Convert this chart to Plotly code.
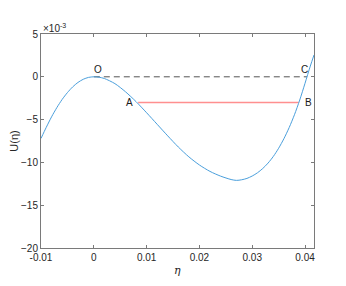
import plotly.graph_objects as go

# Potential curve U(eta), values in units of 1e-3
eta = [-0.0100, -0.0090, -0.0080, -0.0070, -0.0060, -0.0050, -0.0040, -0.0030,
       -0.0020, -0.0010, 0.0000, 0.0010, 0.0020, 0.0040, 0.0060, 0.0080, 0.0100,
       0.0120, 0.0140, 0.0160, 0.0180, 0.0200, 0.0220, 0.0240, 0.0260,
       0.0270, 0.0280, 0.0290, 0.0300, 0.0310, 0.0320, 0.0330, 0.0340,
       0.0350, 0.0360, 0.0370, 0.0380, 0.0390, 0.0400, 0.0410, 0.0417]
U = [-7.2, -5.9, -4.68, -3.6, -2.65, -1.85, -1.18, -0.66,
     -0.29, -0.07, 0.0, -0.05, -0.2, -0.8, -1.75, -2.9, -4.2,
     -5.55, -6.9, -8.2, -9.35, -10.3, -11.05, -11.6, -12.0,
     -12.1, -12.03, -11.87, -11.59, -11.21, -10.71, -10.08, -9.3,
     -8.35, -7.23, -5.93, -4.43, -2.71, -0.76, 1.25, 2.55]

# Reference lines
oc_eta = [0.0, 0.0404]
oc_U = [0.0, 0.0]
ab_eta = [0.0084, 0.0388]
ab_U = [-3.0, -3.0]

# Point labels
pt_names = ["O", "A", "B", "C"]
pt_eta = [0.0008, 0.0068, 0.0406, 0.0399]
pt_U = [0.9, -3.05, -3.05, 0.9]

xticks = [-0.01, 0, 0.01, 0.02, 0.03, 0.04]
xtick_text = ["-0.01", "0", "0.01", "0.02", "0.03", "0.04"]
yticks = [5, 0, -5, -10, -15, -20]

fig = go.Figure()
fig.add_trace(go.Scatter(x=oc_eta, y=oc_U, mode="lines",
                         line=dict(color="#555555", width=1, dash="6px,4px"),
                         hoverinfo="skip"))
fig.add_trace(go.Scatter(x=ab_eta, y=ab_U, mode="lines",
                         line=dict(color="#ff8f8f", width=1.3), hoverinfo="skip"))
fig.add_trace(go.Scatter(x=eta, y=U, mode="lines",
                         line=dict(color="#4a9fdc", width=1, shape="spline", smoothing=0.8)))

for n, xe, ye in zip(pt_names, pt_eta, pt_U):
    fig.add_annotation(x=xe, y=ye, text=n, showarrow=False,
                       font=dict(family="Liberation Sans, Arial", size=10, color="#1a1a1a"))

fig.add_annotation(xref="paper", yref="paper", x=0.0, y=1.0, xanchor="left", yanchor="bottom",
                   text="×10<sup>-3</sup>", showarrow=False, yshift=-2,
                   font=dict(family="Liberation Sans, Arial", size=10, color="#262626"))

# x-axis title placed as annotation for exact vertical placement
fig.add_annotation(xref="paper", yref="paper", x=0.5, y=0.0, xanchor="center", yanchor="top",
                   text="<i>η</i>", showarrow=False, yshift=-14,
                   font=dict(family="DejaVu Serif, Liberation Serif", size=11, color="#262626"))

axis_common = dict(showline=True, linecolor="#7a7a7a", linewidth=1, mirror="ticks",
                   ticks="inside", ticklen=3, tickcolor="#7a7a7a", showgrid=False,
                   zeroline=False, automargin=False,
                   tickfont=dict(family="Liberation Sans, Arial", size=10, color="#262626"))

fig.update_xaxes(range=[-0.01, 0.0417], tickvals=xticks, ticktext=xtick_text, **axis_common)
fig.update_yaxes(range=[-20, 5], tickvals=yticks,
                 title=dict(text="U(η)", standoff=4,
                            font=dict(family="Liberation Sans, Arial", size=11, color="#262626")),
                 **axis_common)

# page body has an 8px margin; size the figure so the plot area lands where the reference has it
fig.update_layout(width=330, height=270, showlegend=False,
                  margin=dict(l=33, r=24, t=26, b=30),
                  plot_bgcolor="white", paper_bgcolor="white")

fig.write_html("out.html")
